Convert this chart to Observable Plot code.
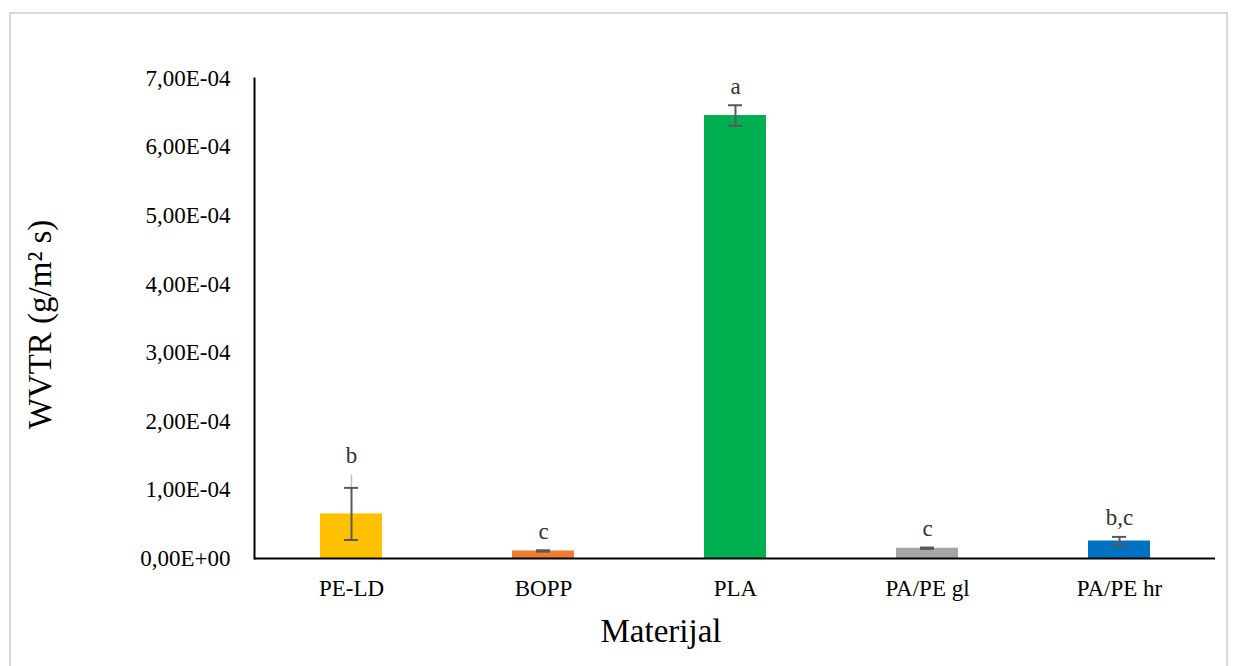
<!DOCTYPE html>
<html>
<head>
<meta charset="utf-8">
<script src="https://cdn.jsdelivr.net/npm/d3@7"></script>
<script src="https://cdn.jsdelivr.net/npm/@observablehq/plot@0.6"></script>
<style>
  body { margin: 0; background: #fff; overflow: hidden; width: 1237px; height: 666px; position: relative; }
  #border { position: absolute; left: 9px; top: 12px; width: 1219px; height: 700px; border: 2px solid #d9d9d9; box-sizing: border-box; }
  #chart { position: absolute; left: 0; top: 0; }
  #chart svg { font-family: "Liberation Serif", "Times New Roman", serif; }
</style>
</head>
<body>
<div id="border"></div>
<div id="chart"></div>
<script>
const categories = ["PE-LD", "BOPP", "PLA", "PA/PE gl", "PA/PE hr"];
const means = [6.5e-5, 1.1e-5, 6.46e-4, 1.5e-5, 2.55e-5];
const errors = [3.8e-5, 1.0e-6, 1.5e-5, 1.0e-6, 6.0e-6];
const extraWhisker = [1.22e-4, null, null, null, null];
const letters = ["b", "c", "a", "c", "b,c"];
const colors = ["#FFC000", "#ED7D31", "#00B050", "#A5A5A5", "#0070C0"];
const yTicks = [0, 1e-4, 2e-4, 3e-4, 4e-4, 5e-4, 6e-4, 7e-4];

const data = categories.map((c, i) => ({
  cat: c, mean: means[i], err: errors[i], ext: extraWhisker[i],
  letter: letters[i], color: colors[i],
  labelAt: Math.max(means[i] + errors[i], extraWhisker[i] ?? 0)
}));

const fmt = d => {
  if (d === 0) return "0,00E+00";
  const e = Math.floor(Math.log10(d) + 1e-9);
  const m = d / Math.pow(10, e);
  const sign = e < 0 ? "-" : "+";
  return m.toFixed(2).replace(".", ",") + "E" + sign + String(Math.abs(e)).padStart(2, "0");
};

const chart = Plot.plot({
  width: 1237,
  height: 666,
  marginLeft: 254,
  marginRight: 22,
  marginTop: 78,
  marginBottom: 108,
  style: { fontFamily: "Liberation Serif, Times New Roman, serif", background: "transparent", color: "#000" },
  x: { domain: categories, padding: 0, label: null },
  y: { domain: [0, 7e-4], label: null },
  marks: [
    Plot.barY(data, { x: "cat", y: "mean", fill: "color", insetLeft: 65, insetRight: 65 }),
    Plot.ruleX(data.filter(d => d.ext != null), { x: "cat", y1: d => d.mean + d.err, y2: "ext", stroke: "#bfbfbf", strokeWidth: 1.5 }),
    Plot.ruleX(data, { x: "cat", y1: d => d.mean - d.err, y2: d => d.mean + d.err, stroke: "#595959", strokeWidth: 2 }),
    Plot.tickY(data, { x: "cat", y: d => d.mean + d.err, stroke: "#595959", strokeWidth: 2, insetLeft: 89, insetRight: 89 }),
    Plot.tickY(data, { x: "cat", y: d => d.mean - d.err, stroke: "#595959", strokeWidth: 2, insetLeft: 89, insetRight: 89 }),
    Plot.text(data, { x: "cat", y: "labelAt", text: "letter", dy: -19, fontSize: 23, fill: "#333" }),
    Plot.axisY({ ticks: yTicks, tickFormat: fmt, tickSize: 0, tickPadding: 24, fontSize: 23, label: null }),
    Plot.axisX({ tickSize: 0, tickPadding: 21, fontSize: 23, label: null }),
    Plot.ruleY([0], { stroke: "#000", strokeWidth: 2 }),
    Plot.frame({ anchor: "left", stroke: "#000", strokeWidth: 2 }),
    Plot.text(["Materijal"], { frameAnchor: "bottom", lineAnchor: "middle", dy: 73, dx: -74, fontSize: 33, fill: "#000" }),
    Plot.text(["WVTR (g/m² s)"], { frameAnchor: "left", textAnchor: "middle", dx: -214, dy: 6, rotate: -90, fontSize: 33, fill: "#000" })
  ]
});
document.getElementById("chart").appendChild(chart);
</script>
</body>
</html>
